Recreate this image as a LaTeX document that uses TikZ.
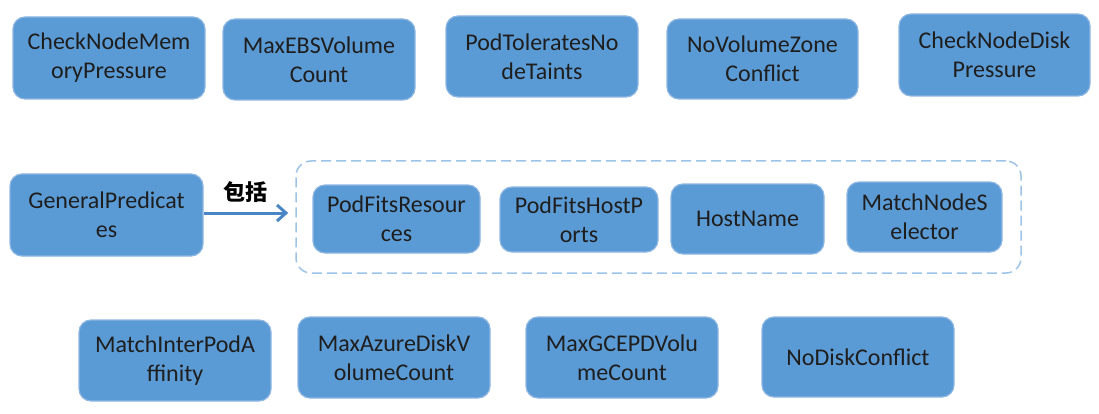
\documentclass[tikz,border=0pt]{standalone}
\usepackage{fontspec}
\setmainfont{Carlito}
\newfontfamily\cjk{Noto Sans CJK SC}
\usetikzlibrary{arrows.meta}
\definecolor{predfill}{HTML}{5B9BD5}
\definecolor{preddraw}{HTML}{8DB6E2}
\definecolor{predtext}{HTML}{1E1E1E}
\definecolor{grpdraw}{HTML}{9DC3E6}
\definecolor{arrblue}{HTML}{4A86C5}

\begin{document}
\begin{tikzpicture}[x=1pt,y=-1pt,
    pred/.style={rectangle, rounded corners=12pt, fill=predfill, draw=preddraw, line width=1.2pt,
        text=predtext, align=center, inner sep=0pt,
        font=\fontsize{24}{29}\selectfont},
    group/.style={rectangle, rounded corners=15pt, draw=grpdraw, line width=1.5pt,
        dash pattern=on 10pt off 5pt, inner sep=0pt},
    incl/.style={-{Straight Barb[length=9pt,width=16pt]}, draw=arrblue, line width=3pt}]
    \useasboundingbox (0,0) rectangle (1099,414);

    \node[pred, minimum width=192pt, minimum height=82pt] (memPressure) at (109,58) {CheckNodeMem\\oryPressure};
    \node[pred, minimum width=192pt, minimum height=81pt] (maxEBS) at (319,59.5) {MaxEBSVolume\\Count};
    \node[pred, minimum width=192pt, minimum height=81pt] (tolerates) at (542,56.5) {PodToleratesNo\\deTaints};
    \node[pred, minimum width=191pt, minimum height=80pt] (volZone) at (762.5,59) {NoVolumeZone\\Conflict};
    \node[pred, minimum width=191pt, minimum height=82pt] (diskPressure) at (994.5,55) {CheckNodeDisk\\Pressure};

    \node[pred, minimum width=193pt, minimum height=82pt] (general) at (106.5,215) {GeneralPredicat\\es};
    \node[group, minimum width=725pt, minimum height=112pt] (included) at (658.5,217) {};
    \node[pred, minimum width=167pt, minimum height=68pt] (fitsRes) at (396.5,219) {PodFitsResour\\ces};
    \node[pred, minimum width=158pt, minimum height=65pt] (fitsPorts) at (579,219.5) {PodFitsHostP\\orts};
    \node[pred, minimum width=153pt, minimum height=70pt] (hostName) at (747.5,219) {HostName};
    \node[pred, minimum width=155pt, minimum height=70pt] (nodeSel) at (924.5,217) {MatchNodeS\\elector};

    \node[pred, minimum width=192pt, minimum height=81pt] (interPod) at (175,360.5) {MatchInterPodA\\ffinity};
    \node[pred, minimum width=192pt, minimum height=81pt] (maxAzure) at (394,357.5) {MaxAzureDiskV\\olumeCount};
    \node[pred, minimum width=192pt, minimum height=81pt] (maxGCE) at (622,357.5) {MaxGCEPDVolu\\meCount};
    \node[pred, minimum width=192pt, minimum height=80pt] (diskConflict) at (858,357) {NoDiskConflict};

    \coordinate (inclEnd) at ([xshift=-7pt,yshift=4pt]included.west);
    \draw[incl] (general.east |- inclEnd) -- (inclEnd) node[midway, above=6pt, text=black, font=\cjk\bfseries\fontsize{22}{26}\selectfont] (inclLabel) {包括};
\end{tikzpicture}
\end{document}
